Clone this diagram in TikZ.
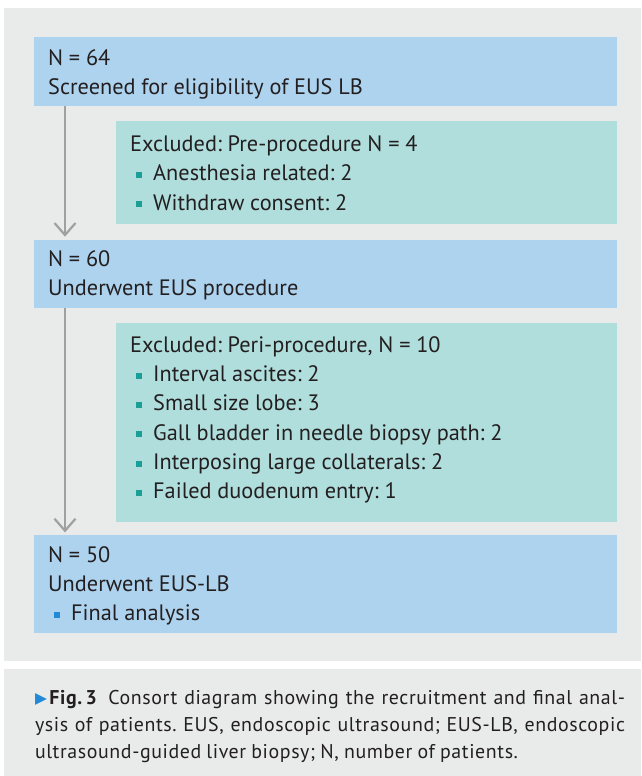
\documentclass[tikz,border=0pt]{standalone}
\usepackage{fontspec}
\setmainfont{PT Sans}
\newfontfamily\symbolfont{DejaVu Sans}
\newfontfamily\captionfont[LetterSpace=3]{PT Sans}
\usetikzlibrary{arrows.meta}
\definecolor{panelgray}{HTML}{E9EBEA}
\definecolor{boxblue}{HTML}{AED3EF}
\definecolor{boxteal}{HTML}{B0DEDC}
\definecolor{dotteal}{HTML}{1A9E96}
\definecolor{dotblue}{HTML}{2189D6}
\definecolor{arrowgray}{HTML}{A0A0A0}
\definecolor{inkgray}{HTML}{231F20}
\newcommand{\sqitem}[1]{\makebox[23pt][l]{\hspace{6pt}\textcolor{#1}{\rule[2.8pt]{6pt}{6pt}}}}
\newcommand{\fullline}[1]{\makebox[590pt][s]{\spaceskip=.24em plus 1em\relax #1}}
\tikzset{
  flowbox/.style={anchor=north west, inner xsep=14pt, inner ysep=0pt, align=left,
    font=\fontsize{22.3}{29.2}\selectfont, text=inkgray,
    execute at begin node={\frenchspacing\spaceskip=.26em\relax}},
  countbox/.style={flowbox, fill=boxblue, text width=554.5pt},
  exclbox/.style={flowbox, fill=boxteal, text width=472.5pt},
  flowarrow/.style={draw=arrowgray, line width=2.2pt, shorten >=2.6pt,
    -{Straight Barb[length=12pt,width=21pt]}}
}
\begin{document}
\begin{tikzpicture}[x=1pt, y=-1pt]
  \useasboundingbox (0,0) rectangle (641,776);
  \fill [white] (0,0) rectangle (641,776);
  \fill [panelgray] (4,8) rectangle (641,661);
  \fill [panelgray] (4,669) rectangle (641,776);

  \node (screened) [countbox, text height=28pt, text depth=40.5pt] at (34,37)
    {N = 64\\Screened for eligibility of EUS LB};
  \node (preexcl) [exclbox, text height=30.5pt, text depth=72.5pt] at (116,121)
    {Excluded: Pre-procedure N = 4\\
     \sqitem{dotteal}Anesthesia related: 2\\
     \sqitem{dotteal}Withdraw consent: 2};
  \node (procedure) [countbox, text height=26.7pt, text depth=41.7pt] at (34,239.3)
    {N = 60\\Underwent EUS procedure};
  \node (periexcl) [exclbox, text height=29.3pt, text depth=169.4pt] at (116,323)
    {Excluded: Peri-procedure, N = 10\\
     \sqitem{dotteal}Interval ascites: 2\\
     \sqitem{dotteal}Small size lobe: 3\\
     \sqitem{dotteal}Gall bladder in needle biopsy path: 2\\
     \sqitem{dotteal}Interposing large collaterals: 2\\
     \sqitem{dotteal}Failed duodenum entry: 1};
  \node (analysed) [countbox, text height=27.3pt, text depth=70.4pt] at (34,535)
    {N = 50\\Underwent EUS-LB\\
     \sqitem{dotblue}Final analysis};

  \draw [flowarrow] ([xshift=31pt]screened.south west) -- ([xshift=31pt]procedure.north west);
  \draw [flowarrow] ([xshift=31pt]procedure.south west) -- ([xshift=31pt]analysed.north west);

  \node (caption) [anchor=base west, inner sep=0pt, align=left, text width=590pt,
    font=\captionfont\fontsize{19.9}{26.9}\selectfont, text=inkgray,
    execute at begin node={\frenchspacing\spaceskip=.26em\relax}] at (34.8,704.3)
    {\fullline{\raisebox{0.5pt}{\color{dotblue}\fontsize{15.5}{15.5}\symbolfont ▶}\hspace{2.5pt}\textbf{Fig.\,3}\hspace{11pt}Consort diagram showing the recruitment and final anal-}\\
     \fullline{ysis of patients. EUS, endoscopic ultrasound; EUS-LB, endoscopic}\\
     ultrasound-guided liver biopsy; N, number of patients.};
\end{tikzpicture}
\end{document}
